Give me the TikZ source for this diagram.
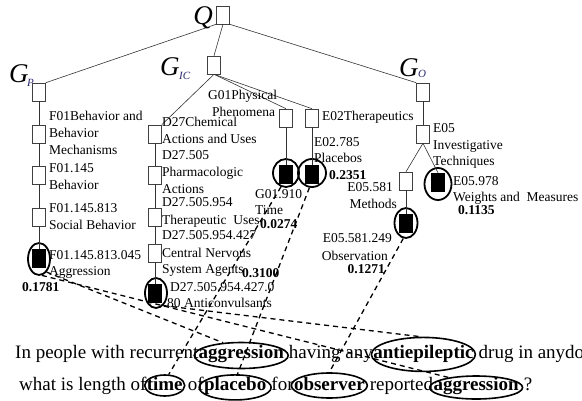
\documentclass[tikz,border=0pt]{standalone}
\usepackage{fontspec}
\setmainfont{Liberation Serif}
\usetikzlibrary{shapes.geometric}
\definecolor{subc}{RGB}{40,40,110}
\begin{document}
\begin{tikzpicture}[x=1pt,y=-1pt,
  box/.style={draw=black!75, line width=0.6pt, fill=white, minimum width=13pt, minimum height=18pt, inner sep=0pt},
  bbox/.style={draw=black, fill=black, minimum width=13pt, minimum height=18pt, inner sep=0pt},
  ring/.style={draw, ellipse, line width=1.8pt, inner sep=0pt},
  lbl/.style={anchor=base west, inner sep=0pt, font=\fontsize{13.5}{16}\selectfont},
  lblr/.style={lbl, anchor=base east},
  val/.style={lbl, font=\fontsize{13.5}{16}\selectfont\bfseries},
  valr/.style={val, anchor=base east},
  edge/.style={line width=0.6pt, draw=black!80},
  link/.style={line width=1.3pt, dash pattern=on 5pt off 4pt},
  qt/.style={anchor=base west, inner sep=0pt, font=\fontsize{19}{22}\selectfont},
  qb/.style={anchor=base west, inner sep=0pt, font=\fontsize{19}{22}\selectfont\bfseries},
  wring/.style={draw, ellipse, line width=1.6pt, inner sep=0pt},
  gbig/.style={anchor=base west, inner sep=0pt, font=\fontsize{27}{27}\selectfont\itshape},
  gsub/.style={anchor=base west, inner sep=0pt, text=subc, font=\fontsize{11}{11}\selectfont\itshape}
]
\useasboundingbox (0,0) rectangle (582,401);

% ---------- tree boxes ----------
\node[box] (Q) at (223,15) {};
\node[box] (GP) at (39,92) {};
\node[box] (GIC) at (214,65) {};
\node[box] (GO) at (423,92) {};

\node[box] (P1) at (39,134) {};
\node[box] (P2) at (39,175) {};
\node[box] (P3) at (39,217) {};
\node[bbox] (P4) at (39,258) {};
\node[ring, minimum width=22pt, minimum height=32pt] (P4r) at (39,259) {};

\node[box] (C1) at (155,134) {};
\node[box] (C2) at (155,175) {};
\node[box] (C3) at (155,217) {};
\node[box] (C4) at (155,253) {};
\node[bbox] (C5) at (155,293) {};
\node[ring, minimum width=22pt, minimum height=30pt] (C5r) at (156,293) {};

\node[box] (G1) at (286,118) {};
\node[bbox] (G2) at (286,174) {};
\node[ring, minimum width=26pt, minimum height=28pt] (G2r) at (286,173) {};

\node[box] (E1) at (312,118) {};
\node[bbox] (E2) at (312,174) {};
\node[ring, minimum width=28pt, minimum height=28pt] (E2r) at (312,173) {};

\node[box] (O1) at (423,134) {};
\node[box] (O2) at (406,181) {};
\node[bbox] (O3) at (406,223) {};
\node[ring, minimum width=23pt, minimum height=30pt] (O3r) at (406,223) {};
\node[bbox] (O4) at (438,182) {};
\node[ring, minimum width=27pt, minimum height=32pt] (O4r) at (438,184) {};

% ---------- tree edges ----------
\draw[edge] (Q.south west) -- (GP.north east);
\draw[edge] (Q.south) -- (GIC.north);
\draw[edge] (Q.south east) -- (GO.north west);
\draw[edge] (GP) -- (P1);
\draw[edge] (P1) -- (P2);
\draw[edge] (P2) -- (P3);
\draw[edge] (P3) -- (P4);
\draw[edge] (GIC.south) -- (C1.north east);
\draw[edge] (C1) -- (C2);
\draw[edge] (C2) -- (C3);
\draw[edge] (C3) -- (C4);
\draw[edge] (C4) -- (C5);
\draw[edge] (GIC.south) -- (G1.north);
\draw[edge] (GIC.south) -- (E1.north);
\draw[edge] (G1) -- (G2);
\draw[edge] (E1) -- (E2);
\draw[edge] (GO) -- (O1);
\draw[edge] (O1.south) -- (O2.north);
\draw[edge] (O2) -- (O3);
\draw[edge] (O1.south) -- (O4.north);

% ---------- group labels ----------
\node[gbig, anchor=base east] (Ql) at (213,25) {Q};
\node[gbig] (GPl) at (9,83) {G};
\node[gsub] (GPs) at (27,87) {P};
\node[gbig] (GICl) at (160,76) {G};
\node[gsub] (GICs) at (179,80) {IC};
\node[gbig] (GOl) at (399,77) {G};
\node[gsub] (GOs) at (418,78) {O};

% ---------- node labels ----------
\node[lbl] (p1a) at (49,121) {F01Behavior and};
\node[lbl] (p1b) at (49,138) {Behavior};
\node[lbl] (p1c) at (49,155) {Mechanisms};
\node[lbl] (p2a) at (49,173) {F01.145};
\node[lbl] (p2b) at (49,190) {Behavior};
\node[lbl] (p3a) at (49,213) {F01.145.813};
\node[lbl] (p3b) at (49,230) {Social Behavior};
\node[lbl] (p4a) at (49,260) {F01.145.813.045};
\node[lbl] (p4b) at (49,276) {Aggression};
\node[val] (p4v) at (22,291) {0.1781};

\node[lbl] (c1a) at (162,127) {D27Chemical};
\node[lbl] (c1b) at (162,144) {Actions and Uses};
\node[lbl] (c1c) at (162,160) {D27.505};
\node[lbl] (c2a) at (162,177) {Pharmacologic};
\node[lbl] (c2b) at (162,194) {Actions};
\node[lbl] (c2c) at (162,207) {D27.505.954};
\node[lbl] (c3a) at (162,225) {Therapeutic~ Uses};
\node[lbl] (c3b) at (162,240) {D27.505.954.427};
\node[lbl] (c4a) at (162,258) {Central Nervous};
\node[lbl] (c4b) at (162,274) {System Agents};
\node[lbl] (c5a) at (170,292) {D27.505.954.427.0};
\node[lbl] (c5b) at (167,308) {80 Anticonvulsants};
\node[val] (c5v) at (242,278) {0.3100};

\node[lbl] (g1a) at (208,100) {G01Physical};
\node[lbl] (g1b) at (212,117) {Phenomena};
\node[lbl] (g2a) at (255,199) {G01.910};
\node[lbl] (g2b) at (255,215) {Time};
\node[val] (g2v) at (260,229) {0.0274};

\node[lbl] (e1a) at (322,121) {E02Therapeutics};
\node[lbl] (e2a) at (314,147) {E02.785};
\node[lbl] (e2b) at (314,163) {Placebos};
\node[val] (e2v) at (329,180) {0.2351};

\node[lbl] (o1a) at (433,133) {E05};
\node[lbl] (o1b) at (433,150) {Investigative};
\node[lbl] (o1c) at (433,166) {Techniques};
\node[lblr] (o2a) at (393,192) {E05.581};
\node[lblr] (o2b) at (397,209) {Methods};
\node[lblr] (o3a) at (392,243) {E05.581.249};
\node[lblr] (o3b) at (388,261) {Observation};
\node[valr] (o3v) at (385,274) {0.1271};
\node[lbl] (o4a) at (453,186) {E05.978};
\node[lbl] (o4b) at (453,202) {Weights and~ Measures};
\node[val] (o4v) at (458,215) {0.1135};

% ---------- question ----------
\node[qt] (q1a) at (15,359) {In people with recurrent\ };
\node[qb] (W1) at (q1a.base east) {aggression};
\node[qt] (q1b) at (W1.base east) {\ having any\ };
\node[qb] (W2) at (q1b.base east) {antiepileptic};
\node[qt] (q1c) at (W2.base east) {\ drug in anydo};

\node[qt] (q2a) at (19,391) {what is length of\ };
\node[qb] (W3) at (q2a.base east) {time};
\node[qt] (q2b) at (W3.base east) {\ of\ };
\node[qb] (W4) at (q2b.base east) {placebo};
\node[qt] (q2c) at (W4.base east) {\ for\ };
\node[qb] (W5) at (q2c.base east) {observer};
\node[qt] (q2d) at (W5.base east) {\ reported\ };
\node[qb] (W6) at (q2d.base east) {aggression};
\node[qt] (q2e) at (W6.base east) {\ ?};

\node[wring, minimum width=94pt, minimum height=26pt] (W1r) at ([yshift=-1pt]W1.center) {};
\node[wring, minimum width=104pt, minimum height=34pt] (W2r) at ([yshift=0pt]W2.center) {};
\node[wring, minimum width=40pt, minimum height=21pt] (W3r) at ([yshift=-1pt]W3.center) {};
\node[wring, minimum width=72pt, minimum height=25pt] (W4r) at ([yshift=-1pt]W4.center) {};
\node[wring, minimum width=76pt, minimum height=25pt] (W5r) at ([yshift=-1pt]W5.center) {};
\node[wring, minimum width=93pt, minimum height=23pt] (W6r) at ([yshift=-1pt]W6.center) {};

% ---------- dashed links ----------
\draw[link] (P4r.-60) -- (W1r.145);
\draw[link] (P4r.-80) -- (W6r.160);
\draw[link] (C5r.-60) -- (W2r.100);
\draw[link] (G2r.250) -- (W3r.70);
\draw[link] (E2r.260) -- (W4r.80);
\draw[link] (O3r.260) -- (W5r.90);
\end{tikzpicture}
\end{document}
